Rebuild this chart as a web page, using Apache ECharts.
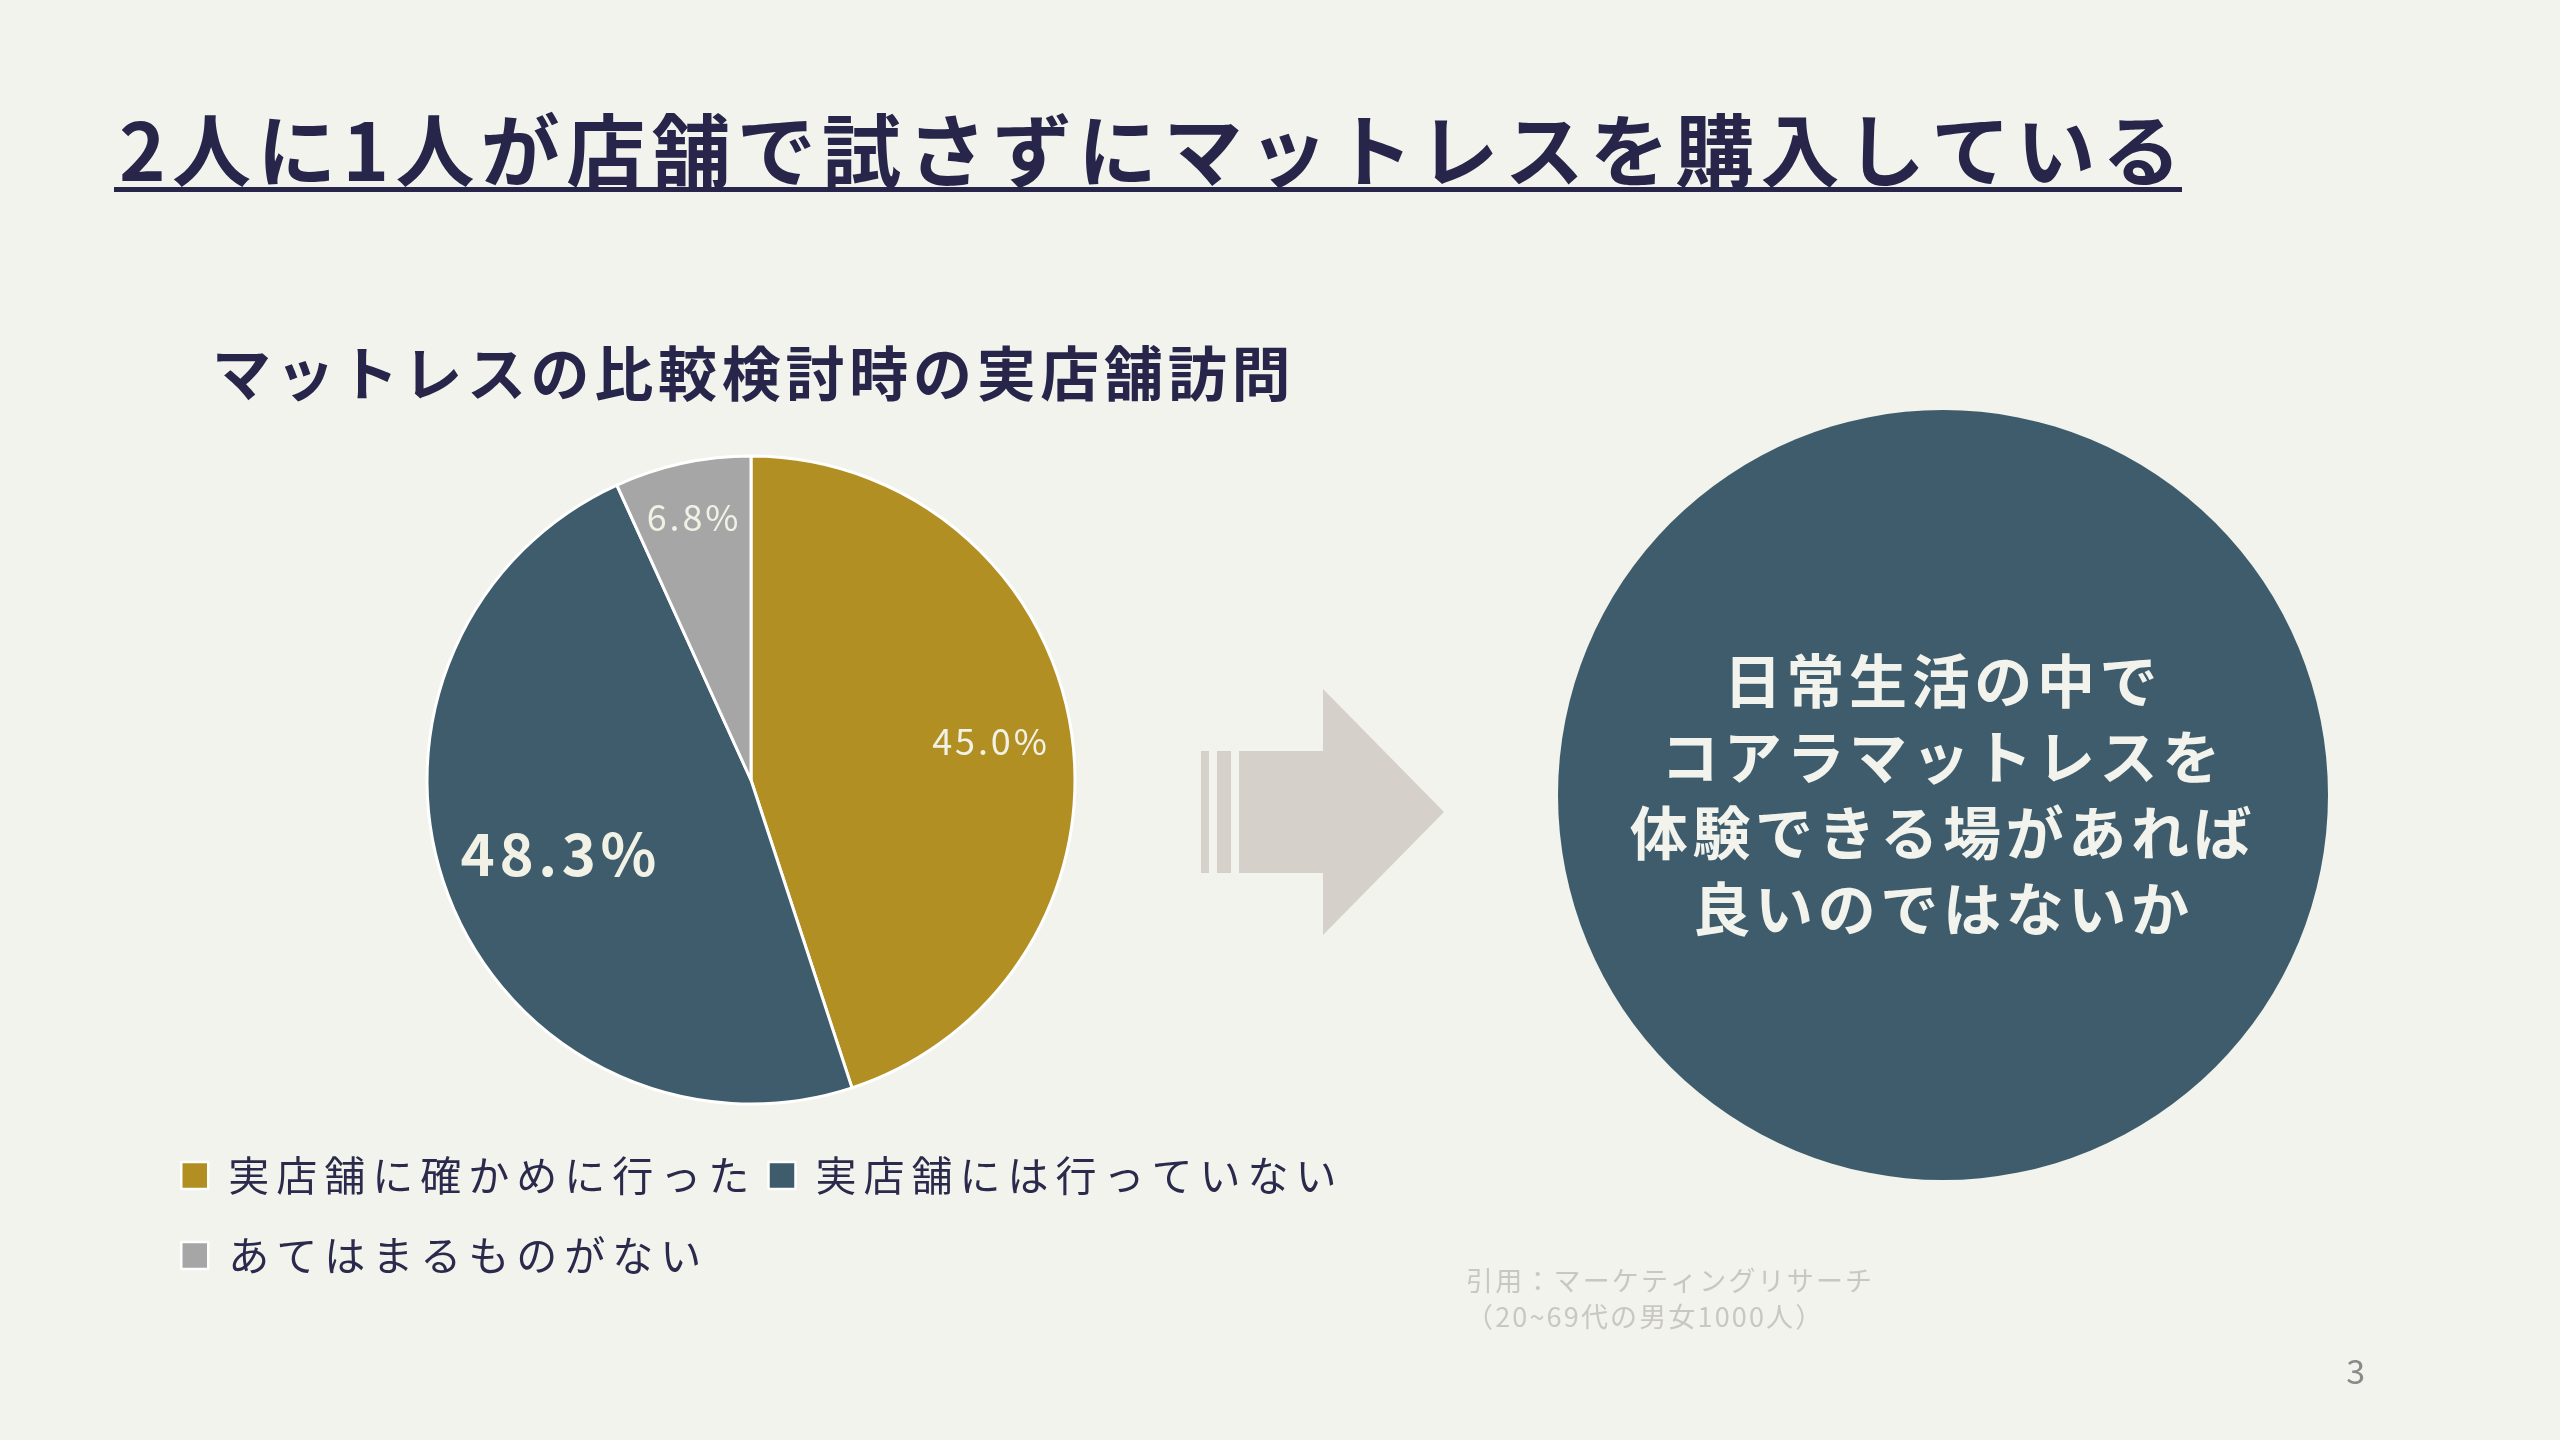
<!DOCTYPE html>
<html>
<head>
<meta charset="utf-8">
<script src="https://cdn.jsdelivr.net/npm/echarts@6/dist/echarts.min.js"></script>
<style>
html,body{margin:0;padding:0;background:#f1f3ec;}
#chart{width:2560px;height:1440px;}
</style>
</head>
<body>
<div id="chart"></div>
<script>
// Letter spacing for canvas text (the reference typography is tracked out)
(function () {
  const P = CanvasRenderingContext2D.prototype;
  if (!('letterSpacing' in P)) return;
  const spacingPx = { 41: 7 };   // legend text is tracked wider
  const ratio = 0.08;
  function apply(ctx) {
    const m = /(\d+(?:\.\d+)?)px/.exec(ctx.font);
    if (m) {
      const s = parseFloat(m[1]);
      const sp = spacingPx[s] != null ? spacingPx[s] : s * ratio;
      ctx.letterSpacing = sp.toFixed(2) + 'px';
    }
  }
  const ft = P.fillText, st = P.strokeText, mt = P.measureText;
  P.fillText = function () { apply(this); return ft.apply(this, arguments); };
  P.strokeText = function () { apply(this); return st.apply(this, arguments); };
  P.measureText = function () { apply(this); return mt.apply(this, arguments); };
})();

// ---- data ----
const mainTitle = '2人に1人が店舗で試さずにマットレスを購入している';
const chartTitle = 'マットレスの比較検討時の実店舗訪問';
const categories = ['実店舗に確かめに行った', '実店舗には行っていない', 'あてはまるものがない'];
const shares = [45.0, 48.3, 6.8];
const messageLines = ['日常生活の中で', 'コアラマットレスを', '体験できる場があれば', '良いのではないか'];
const sourceLines = ['引用：マーケティングリサーチ', '（20~69代の男女1000人）'];
const pageNumber = '3';

// ---- styles ----
const FONT = "'Noto Sans CJK JP', 'Noto Sans', sans-serif";
const sliceColors = ['#b18f23', '#3e5c6b', '#a6a6a6'];
const sliceLabelStyles = [
  { fontSize: 36, fontWeight: 400, radial: 0.75 },
  { fontSize: 58, fontWeight: 'bold', radial: 0.63 },
  { fontSize: 36, fontWeight: 400, radial: 0.83 }
];
const PIE_C = [751, 780], PIE_R = 324;

const chart = echarts.init(document.getElementById('chart'), null, { width: 2560, height: 1440 });

const option = {
  backgroundColor: '#f1f3ec',
  animation: false,
  textStyle: { fontFamily: FONT },
  title: [
    { text: mainTitle, left: 119, top: 108, padding: 0,
      textStyle: { fontSize: 79, fontWeight: 'bold', color: '#27264a', fontFamily: FONT } },
    { text: chartTitle, left: 212, top: 342, padding: 0,
      textStyle: { fontSize: 59, fontWeight: 'bold', color: '#27264a', fontFamily: FONT } }
  ],
  legend: {
    left: 180, top: 1141, width: 1250, orient: 'horizontal', padding: 0,
    icon: 'rect', itemWidth: 27, itemHeight: 27, itemGap: 11,
    selectedMode: false,
    itemStyle: { borderColor: '#ffffff', borderWidth: 2.5 },
    textStyle: { fontSize: 41, color: '#2b2a4c', fontFamily: FONT, padding: [0, 0, 0, 15], lineHeight: 69 },
    data: categories
  },
  series: [{
    type: 'pie',
    center: PIE_C,
    radius: [0, PIE_R],
    startAngle: 90,
    clockwise: true,
    silent: true,
    emphasis: { disabled: true },
    itemStyle: { borderColor: '#ffffff', borderWidth: 3 },
    labelLine: { show: false },
    label: {
      show: true, position: 'inside', color: '#f1f1e6', fontFamily: FONT,
      formatter: p => p.value.toFixed(1) + '%'
    },
    labelLayout: function (params) {
      const r = params.labelRect;
      const lx = r.x + r.width / 2, ly = r.y + r.height / 2;
      const dxc = lx - PIE_C[0], dyc = ly - PIE_C[1];
      const d = Math.sqrt(dxc * dxc + dyc * dyc) || 1;
      const k = sliceLabelStyles[params.dataIndex].radial * PIE_R / d;
      return { dx: (k - 1) * dxc, dy: (k - 1) * dyc };
    },
    data: categories.map((name, i) => ({
      name: name,
      value: shares[i],
      itemStyle: { color: sliceColors[i] },
      label: { fontSize: sliceLabelStyles[i].fontSize, fontWeight: sliceLabelStyles[i].fontWeight }
    }))
  }],
  graphic: [
    // title underline
    { type: 'rect', shape: { x: 114, y: 187, width: 2068, height: 5 }, style: { fill: '#27264a' }, silent: true },
    // arrow
    { type: 'rect', shape: { x: 1201, y: 751, width: 8, height: 122 }, style: { fill: '#d5d1ca' }, silent: true },
    { type: 'rect', shape: { x: 1217, y: 751, width: 14, height: 122 }, style: { fill: '#d5d1ca' }, silent: true },
    { type: 'polygon', shape: { points: [[1239, 751], [1323, 751], [1323, 689], [1444, 812], [1323, 935], [1323, 873], [1239, 873]] },
      style: { fill: '#d5d1ca' }, silent: true },
    // message circle
    { type: 'circle', shape: { cx: 1943, cy: 795, r: 385 }, style: { fill: '#3e5c6b' }, silent: true },
    { type: 'text', x: 1943, y: 795, silent: true,
      style: { text: messageLines.join('\n'), align: 'center', verticalAlign: 'middle',
        font: 'bold 58px ' + FONT, lineHeight: 76, fill: '#f1f3ec' } },
    // source
    { type: 'text', x: 1466, y: 1263, silent: true,
      style: { text: sourceLines.join('\n'), align: 'left', verticalAlign: 'top',
        font: '27px ' + FONT, lineHeight: 36, fill: '#c9c7c2' } },
    // page number
    { type: 'text', x: 2357, y: 1371, silent: true,
      style: { text: pageNumber, align: 'center', verticalAlign: 'middle', font: '34px ' + FONT, fill: '#8a8a8a' } }
  ]
};

chart.setOption(option);
</script>
</body>
</html>
